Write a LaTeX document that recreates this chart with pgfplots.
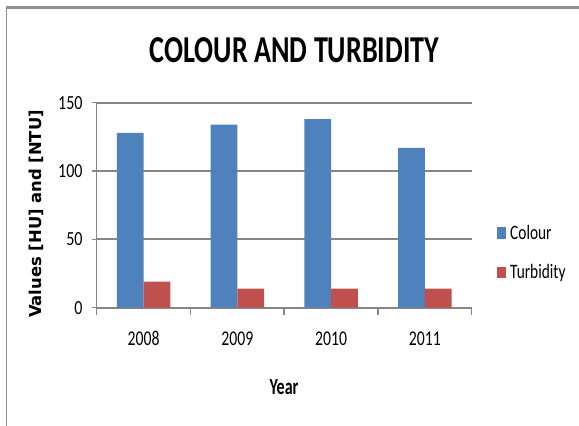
\documentclass[border=0pt]{standalone}
\usepackage{pgfplots}
\pgfplotsset{compat=1.18}
\usepackage{fontspec}
\setmainfont{Carlito}
\newfontfamily\ticksfont[FakeStretch=0.8]{Carlito}
\newfontfamily\legfont[FakeStretch=0.75]{Carlito}
\newfontfamily\xticksfont[FakeStretch=0.75]{Carlito}
\newfontfamily\titlefont[FakeStretch=0.74]{Carlito}
\newfontfamily\yearfont[FakeStretch=0.7]{Carlito}
\newfontfamily\ylabfont{DejaVu Sans}

\definecolor{colourblue}{HTML}{4F81BD}
\definecolor{turbred}{HTML}{C0504D}
\definecolor{gridgray}{HTML}{868686}
\definecolor{framegray}{HTML}{8F8F8F}

\pgfplotstableread{
x year colour turbidity
0 2008 128 19
1 2009 134 14
2 2010 138 14
3 2011 117 14
}\datatable

\begin{document}
\begin{tikzpicture}[x=1pt,y=1pt]
  \path[use as bounding box] (0,0) rectangle (579,426);
  % chart area frame
  \draw[framegray, line width=1pt] (6.5,-2) -- (6.5,418);
  \draw[framegray, line width=2.5pt] (6,418.5) -- (581,418.5);

  % title
  \node[anchor=base] at (294.5,363.7)
    {\titlefont\bfseries\fontsize{38}{40}\selectfont COLOUR AND TURBIDITY};

  \begin{axis}[
    at={(96.7pt,118.3pt)}, anchor=south west,
    scale only axis, width=375pt, height=205pt,
    xmin=-0.5, xmax=3.5, ymin=0, ymax=150,
    axis lines*=left,
    axis line style={gridgray, line width=1.5pt},
    xtick={0,1,2,3},
    xticklabels={2008,2009,2010,2011},
    major x tick style={draw=none},
    minor xtick={-0.5,0.5,1.5,2.5,3.5},
    minor tick length=7pt,
    minor x tick style={gridgray, line width=1.5pt},
    ytick={0,50,100,150},
    major tick length=5pt,
    major y tick style={gridgray, line width=1.5pt},
    tick align=outside,
    ymajorgrids,
    major grid style={gridgray, line width=1.8pt},
    xticklabel style={anchor=base, yshift=-32.4pt, inner sep=0pt,
      font=\xticksfont\fontsize{21}{24}\selectfont},
    /pgf/number format/assume math mode=true,
    yticklabel style={anchor=east, inner sep=0pt, xshift=-9pt,
      font=\ticksfont\fontsize{20}{24}\selectfont},
    legend style={at={(1.0675,0.268)}, anchor=west, draw=none, fill=none,
      font=\legfont\fontsize{20.5}{24}\selectfont,
      row sep=21pt, inner sep=0pt,
      nodes={inner sep=1.5pt},
      /tikz/every odd column/.append style={column sep=2.5pt}},
    legend cell align=left,
    legend image code/.code={\fill[#1] (0pt,-5.8pt) rectangle (9pt,5.8pt);},
    clip=false,
  ]
    \addplot[ybar, bar width=26.7pt, bar shift=-13.35pt, fill=colourblue, draw=none]
      table[x=x, y=colour] {\datatable};
    \addlegendentry{Colour}
    \addplot[ybar, bar width=26.7pt, bar shift=13.35pt, fill=turbred, draw=none]
      table[x=x, y=turbidity] {\datatable};
    \addlegendentry{Turbidity}
  \end{axis}

  % axis titles
  \node[rotate=90, anchor=center] at (36.5,212)
    {\ylabfont\bfseries\fontsize{16.4}{18}\selectfont Values [HU] and [NTU]};
  \node[anchor=base] at (284,31)
    {\yearfont\bfseries\fontsize{23}{26}\selectfont Year};
\end{tikzpicture}
\end{document}
